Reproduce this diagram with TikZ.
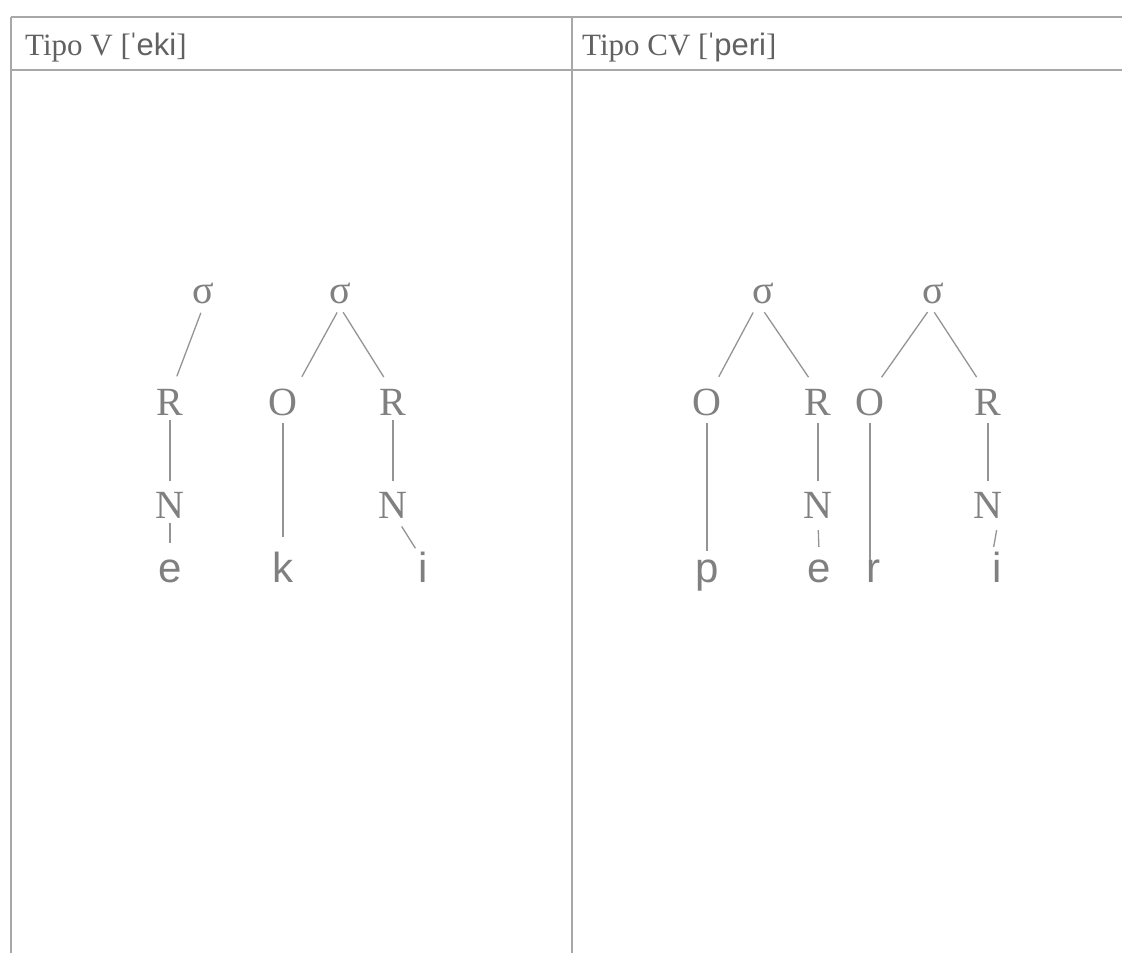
\documentclass[tikz,border=0pt]{standalone}
\usepackage{fontspec}
\setmainfont{Liberation Serif}
\newfontfamily\arialish{Liberation Sans}
\usetikzlibrary{calc}
\definecolor{rulegray}{gray}{0.66}
\definecolor{inkgray}{gray}{0.50}
\definecolor{headgray}{gray}{0.38}
\definecolor{branchgray}{gray}{0.58}

\begin{document}
\begin{tikzpicture}[x=1pt,y=-1pt,
  lbl/.style={inner sep=4pt, anchor=base, text height=27pt, text depth=0pt,
    text=inkgray, font=\fontsize{40}{40}\selectfont},
  seg/.style={lbl, font=\arialish\fontsize{42}{42}\selectfont},
  branch/.style={draw=branchgray, line width=1.3pt},
  hdr/.style={anchor=base west, inner sep=0pt, text=headgray,
    font=\fontsize{31}{31}\selectfont},
  grid/.style={draw=rulegray, line width=1.6pt}]

\useasboundingbox (0,0) rectangle (1122,953);
\fill[white] (0,0) rectangle (1122,953);

% table rules
\draw[grid] (11,17) -- (1122,17);
\draw[grid] (11,70) -- (1122,70);
\draw[grid] (11,17) -- (11,953);
\draw[grid] (572,17) -- (572,953);

% column headers
\node[hdr] (hA) at (25,55) {Tipo V [\kern-2.5pt{\arialish ˈ\kern-2pt eki}]};
\node[hdr] (hB) at (582,55) {Tipo CV [\kern-2.5pt{\arialish ˈ\kern-2pt peri}]};

% syllable tree for [e]
\node[lbl] (sA) at (203,303) {σ};
\node[lbl] (rA) at (170,415) {R};
\node[lbl] (nA) at (170,518) {N};
\node[seg] (eA) at (170,582) {e};
\draw[branch, shorten <=6pt, shorten >=8pt] (sA.south) -- ($(rA.north)+(4,0)$);
\draw[branch, shorten <=1pt, shorten >=6pt] (rA.south) -- (nA.north);
\draw[branch, shorten <=1pt, shorten >=8pt] (nA.south) -- (eA.north);

% syllable tree for [ki]
\node[lbl] (sB) at (340,303) {σ};
\node[lbl] (oB) at (283,415) {O};
\node[seg] (kB) at (283,582) {k};
\node[lbl] (rB) at (393,415) {R};
\node[lbl] (nB) at (393,518) {N};
\node[seg] (iB) at (423,582) {i};
\draw[branch, shorten <=6pt, shorten >=8pt] (sB.south) -- ($(oB.north)+(15,0)$);
\draw[branch, shorten <=6pt, shorten >=8pt] (sB.south) -- ($(rB.north)+(-5,0)$);
\draw[branch, shorten <=4pt, shorten >=14pt] (oB.south) -- (kB.north);
\draw[branch, shorten <=1pt, shorten >=6pt] (rB.south) -- (nB.north);
\draw[branch, shorten <=5pt, shorten >=3pt] ($(nB.south)+(6,0)$) -- ($(iB.north)+(-6,0)$);

% syllable tree for [pe]
\node[lbl] (sC) at (763,303) {σ};
\node[lbl] (oC) at (707,415) {O};
\node[seg] (pC) at (707,582) {p};
\node[lbl] (rC) at (818,415) {R};
\node[lbl] (nC) at (818,518) {N};
\node[seg] (eC) at (819,582) {e};
\draw[branch, shorten <=6pt, shorten >=8pt] ($(sC.south)+(-7,0)$) -- ($(oC.north)+(8,0)$);
\draw[branch, shorten <=6pt, shorten >=8pt] ($(sC.south)+(-2,0)$) -- ($(rC.north)+(-5,0)$);
\draw[branch, shorten <=4pt] (oC.south) -- (pC.north);
\draw[branch, shorten <=4pt, shorten >=6pt] (rC.south) -- (nC.north);
\draw[branch, shorten <=8pt, shorten >=4pt] (nC.south) -- (eC.north);

% syllable tree for [ri]
\node[lbl] (sD) at (933,303) {σ};
\node[lbl] (oD) at (870,415) {O};
\node[seg] (rrD) at (873,582) {r};
\node[lbl] (rD) at (988,415) {R};
\node[lbl] (nD) at (988,518) {N};
\node[seg] (iD) at (997,582) {i};
\draw[branch, shorten <=6pt, shorten >=8pt] ($(sD.south)+(-2,0)$) -- ($(oD.north)+(7,0)$);
\draw[branch, shorten <=6pt, shorten >=8pt] ($(sD.south)+(-2,0)$) -- ($(rD.north)+(-7,0)$);
\draw[branch, shorten <=4pt] (oD.south) -- ($(rrD.north)+(-3,9)$);
\draw[branch, shorten <=4pt, shorten >=6pt] (rD.south) -- (nD.north);
\draw[branch, shorten <=8pt, shorten >=4pt] ($(nD.south)+(10,0)$) -- ($(iD.north)+(-4,0)$);
\end{tikzpicture}
\end{document}
